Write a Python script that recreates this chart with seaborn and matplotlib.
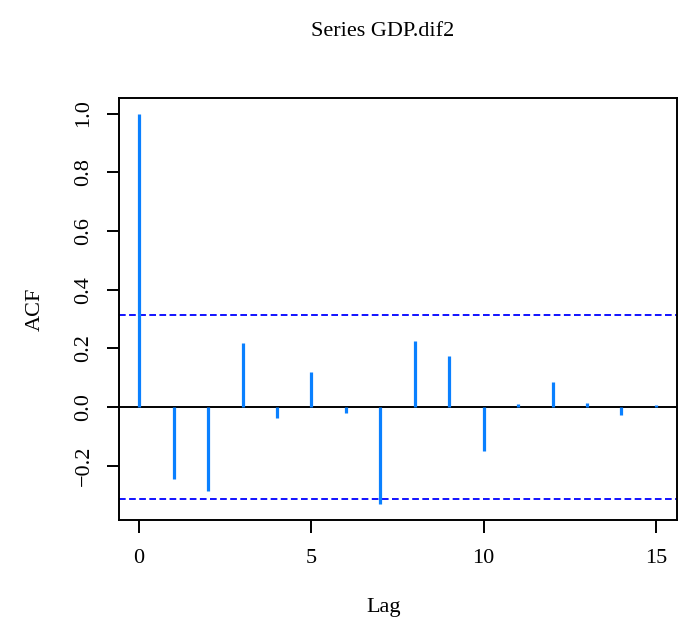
import numpy as np
import pandas as pd
import matplotlib
matplotlib.use("Agg")
import matplotlib.pyplot as plt
import seaborn as sns

lags = [0, 1, 2, 3, 4, 5, 6, 7, 8, 9, 10, 11, 12, 13, 14, 15]
acf_values = [1.0, -0.244, -0.286, 0.218, -0.035, 0.119, -0.020, -0.328,
              0.224, 0.173, -0.149, 0.010, 0.086, 0.016, -0.026, 0.006]
conf_limit = 0.313
x_ticks = [0, 5, 10, 15]
y_ticks = [-0.2, 0.0, 0.2, 0.4, 0.6, 0.8, 1.0]
title = "Series GDP.dif2"
xlabel = "Lag"
ylabel = "ACF"

sns.set_theme(style="white")
plt.rcParams['font.family'] = ['Liberation Serif', 'DejaVu Serif']
plt.rcParams['axes.unicode_minus'] = True

df = pd.DataFrame({"lag": lags, "acf": acf_values})

fig = plt.figure(figsize=(6.78, 6.26), dpi=100)
ax = fig.add_axes([0.1748, 0.1693, 0.8230, 0.6742])

ax.vlines(df["lag"], 0, df["acf"], color="#0A80FF", linewidth=2.3, zorder=3)
ax.axhline(0, color="black", linewidth=1.4, zorder=2)
ax.axhline(conf_limit, color="#0000FF", linestyle=(0, (3.7, 1.9)), linewidth=1.3, zorder=2)
ax.axhline(-conf_limit, color="#0000FF", linestyle=(0, (3.7, 1.9)), linewidth=1.3, zorder=2)

ax.set_xlim(-0.6, 15.6)
ax.set_ylim(-0.384, 1.053)
ax.set_xticks(x_ticks)
ax.set_xticklabels([str(t) for t in x_ticks])
ax.set_yticks(y_ticks)
ax.set_yticklabels([f"{t:.1f}".replace("-", "\u2212") for t in y_ticks],
                   rotation=90, va="center")

for s in ax.spines.values():
    s.set_color("black")
    s.set_linewidth(1.4)
    s.set_visible(True)

ax.tick_params(axis="both", which="both", direction="out", length=9, width=1.4,
               color="black", labelsize=16, labelcolor="black",
               bottom=True, left=True, top=False, right=False)
ax.tick_params(axis="x", pad=12)
ax.tick_params(axis="y", pad=9)
ax.grid(False)
ax.set_facecolor("white")
fig.patch.set_facecolor("white")

fig.text(0.565, 0.950, title, ha="center", va="center", fontsize=16, color="black")
fig.text(0.566, 0.029, xlabel, ha="center", va="center", fontsize=16, color="black")
fig.text(0.052, 0.506, ylabel, ha="center", va="center", fontsize=16, rotation=90, color="black")

fig.savefig("out.png", dpi=100, facecolor="white")
